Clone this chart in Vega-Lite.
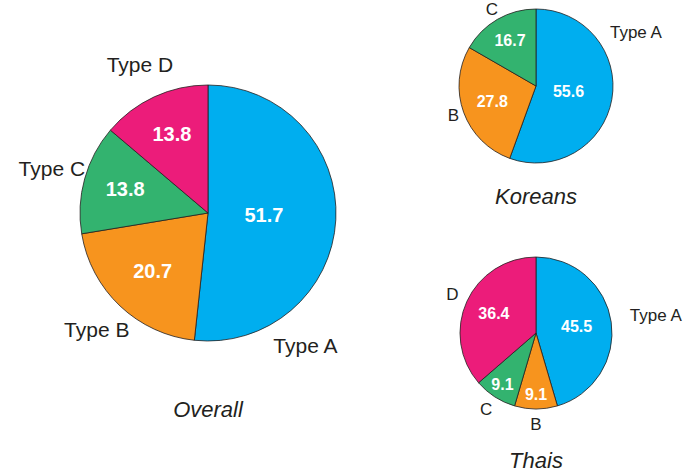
{
  "$schema": "https://vega.github.io/schema/vega-lite/v6.json",
  "padding": 0,
  "background": "white",
  "config": {"view": {"stroke": null}, "font": "Liberation Sans"},
  "datasets": {
    "overall": [
      {"type": "A", "label": "Type A", "value": 51.7},
      {"type": "B", "label": "Type B", "value": 20.7},
      {"type": "C", "label": "Type C", "value": 13.8},
      {"type": "D", "label": "Type D", "value": 13.8}
    ],
    "koreans": [
      {"type": "A", "label": "Type A", "value": 55.6},
      {"type": "B", "label": "B", "value": 27.8},
      {"type": "C", "label": "C", "value": 16.7}
    ],
    "thais": [
      {"type": "A", "label": "Type A", "value": 45.5},
      {"type": "B", "label": "B", "value": 9.1},
      {"type": "C", "label": "C", "value": 9.1},
      {"type": "D", "label": "D", "value": 36.4}
    ]
  },
  "spacing": 0,
  "bounds": "flush",
  "hconcat": [
    {
      "width": 416,
      "height": 420,
      "data": {"name": "overall"},
      "title": {"text": "Overall", "orient": "bottom", "frame": "group", "offset": -23, "fontSize": 22, "fontStyle": "italic", "fontWeight": "normal", "color": "#231f20", "font": "Liberation Sans"},
      "resolve": {"scale": {"theta": "independent", "radius": "independent"}},
      "layer": [
        {
          "mark": {"type": "arc", "outerRadius": 128, "stroke": "#231f20", "strokeWidth": 0.8},
          "encoding": {
            "theta": {"field": "value", "type": "quantitative", "stack": true, "scale": {"domain": [0, 100]}},
            "order": {"field": "type", "type": "ordinal", "sort": "ascending"},
            "color": {"field": "type", "type": "nominal", "legend": null, "scale": {"domain": ["A", "B", "C", "D"], "range": ["#00AEEF", "#F7941E", "#33B36F", "#EC1C7A"]}}
          }
        },
        {
          "mark": {"type": "text", "fontSize": 20, "fontWeight": "bold", "baseline": "middle", "color": "white"},
          "encoding": {
            "theta": {"field": "value", "type": "quantitative", "stack": true, "scale": {"domain": [0, 100]}},
            "order": {"field": "type", "type": "ordinal", "sort": "ascending"},
            "text": {"field": "value", "type": "quantitative", "format": ".1f"},
            "radius": {"field": "value", "type": "quantitative", "scale": {"type": "linear", "domain": [13.8, 51.7], "range": [86, 56]}}
          }
        },
        {
          "transform": [{"filter": "datum.type === 'A'"}],
          "mark": {"type": "text", "fontSize": 21, "baseline": "middle", "radius": 166, "thetaOffset": 0.89, "color": "#231f20"},
          "encoding": {
            "theta": {"field": "value", "type": "quantitative", "stack": true, "scale": {"domain": [0, 100]}},
            "order": {"field": "type", "type": "ordinal", "sort": "ascending"},
            "text": {"field": "label"}
          }
        },
        {
          "transform": [{"filter": "datum.type !== 'A'"}],
          "mark": {"type": "text", "fontSize": 21, "baseline": "middle", "radius": 162, "color": "#231f20"},
          "encoding": {
            "theta": {"field": "value", "type": "quantitative", "stack": true, "scale": {"domain": [0, 100], "range": [6.283185307179586, 0]}},
            "order": {"field": "type", "type": "ordinal", "sort": "descending"},
            "text": {"field": "label"}
          }
        }
      ]
    },
    {
      "spacing": 88,
      "bounds": "flush",
      "vconcat": [
        {
          "width": 240,
          "height": 166,
          "data": {"name": "koreans"},
          "title": {"text": "Koreans", "orient": "bottom", "frame": "group", "offset": 18, "fontSize": 22, "fontStyle": "italic", "fontWeight": "normal", "color": "#231f20", "font": "Liberation Sans"},
          "resolve": {"scale": {"theta": "independent", "radius": "independent"}},
          "layer": [
            {
              "mark": {"type": "arc", "outerRadius": 77, "stroke": "#231f20", "strokeWidth": 0.8},
              "encoding": {
                "theta": {"field": "value", "type": "quantitative", "stack": true, "scale": {"domain": [0, 100.1]}},
                "order": {"field": "type", "type": "ordinal", "sort": "ascending"},
                "color": {"field": "type", "type": "nominal", "legend": null, "scale": {"domain": ["A", "B", "C", "D"], "range": ["#00AEEF", "#F7941E", "#33B36F", "#EC1C7A"]}}
              }
            },
            {
              "mark": {"type": "text", "fontSize": 16, "fontWeight": "bold", "baseline": "middle", "color": "white"},
              "encoding": {
                "theta": {"field": "value", "type": "quantitative", "stack": true, "scale": {"domain": [0, 100.1]}},
                "order": {"field": "type", "type": "ordinal", "sort": "ascending"},
                "text": {"field": "value", "type": "quantitative", "format": ".1f"},
                "radius": {"field": "value", "type": "quantitative", "scale": {"type": "linear", "domain": [16.7, 55.6], "range": [52, 33]}}
              }
            },
            {
              "transform": [{"filter": "datum.type === 'A'"}],
              "mark": {"type": "text", "fontSize": 17, "baseline": "middle", "radius": 113, "thetaOffset": -0.66, "color": "#231f20"},
              "encoding": {
                "theta": {"field": "value", "type": "quantitative", "stack": true, "scale": {"domain": [0, 100.1]}},
                "order": {"field": "type", "type": "ordinal", "sort": "ascending"},
                "text": {"field": "label"}
              }
            },
            {
              "transform": [{"filter": "datum.type !== 'A'"}],
              "mark": {"type": "text", "fontSize": 17, "baseline": "middle", "radius": 88, "color": "#231f20"},
              "encoding": {
                "theta": {"field": "value", "type": "quantitative", "stack": true, "scale": {"domain": [0, 100.1], "range": [6.283185307179586, 0]}},
                "order": {"field": "type", "type": "ordinal", "sort": "descending"},
                "text": {"field": "label"}
              }
            }
          ]
        },
        {
          "width": 240,
          "height": 152,
          "data": {"name": "thais"},
          "title": {"text": "Thais", "orient": "bottom", "frame": "group", "offset": 18, "fontSize": 22, "fontStyle": "italic", "fontWeight": "normal", "color": "#231f20", "font": "Liberation Sans"},
          "resolve": {"scale": {"theta": "independent", "radius": "independent"}},
          "layer": [
            {
              "mark": {"type": "arc", "outerRadius": 76, "stroke": "#231f20", "strokeWidth": 0.8},
              "encoding": {
                "theta": {"field": "value", "type": "quantitative", "stack": true, "scale": {"domain": [0, 100.1]}},
                "order": {"field": "type", "type": "ordinal", "sort": "ascending"},
                "color": {"field": "type", "type": "nominal", "legend": null, "scale": {"domain": ["A", "B", "C", "D"], "range": ["#00AEEF", "#F7941E", "#33B36F", "#EC1C7A"]}}
              }
            },
            {
              "mark": {"type": "text", "fontSize": 16, "fontWeight": "bold", "baseline": "middle", "color": "white"},
              "encoding": {
                "theta": {"field": "value", "type": "quantitative", "stack": true, "scale": {"domain": [0, 100.1]}},
                "order": {"field": "type", "type": "ordinal", "sort": "ascending"},
                "text": {"field": "value", "type": "quantitative", "format": ".1f"},
                "radius": {"field": "value", "type": "quantitative", "scale": {"type": "linear", "domain": [9.1, 45.5], "range": [62, 41]}}
              }
            },
            {
              "transform": [{"filter": "datum.type === 'A'"}],
              "mark": {"type": "text", "fontSize": 17, "baseline": "middle", "radius": 121, "color": "#231f20"},
              "encoding": {
                "theta": {"field": "value", "type": "quantitative", "stack": true, "scale": {"domain": [0, 100.1]}},
                "order": {"field": "type", "type": "ordinal", "sort": "ascending"},
                "text": {"field": "label"}
              }
            },
            {
              "transform": [{"filter": "datum.type !== 'A'"}],
              "mark": {"type": "text", "fontSize": 17, "baseline": "middle", "radius": 92, "color": "#231f20"},
              "encoding": {
                "theta": {"field": "value", "type": "quantitative", "stack": true, "scale": {"domain": [0, 100.1], "range": [6.283185307179586, 0]}},
                "order": {"field": "type", "type": "ordinal", "sort": "descending"},
                "text": {"field": "label"}
              }
            }
          ]
        }
      ]
    }
  ]
}
